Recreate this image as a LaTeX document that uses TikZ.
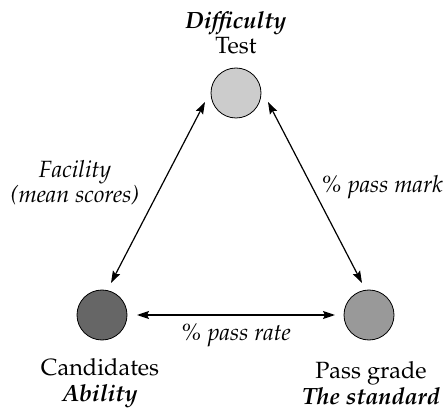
\documentclass[tikz,border=0pt]{standalone}
\usepackage[T1]{fontenc}
\usepackage{mathpazo}
\usetikzlibrary{arrows.meta}
\tikzset{
  disc/.style={circle, draw=black, line width=0.8pt, minimum size=50pt, inner sep=0pt},
  lbl/.style={align=center, font=\fontsize{23.5}{25.5}\selectfont, inner sep=0pt},
  conn/.style={line width=1.2pt, {Stealth[length=12pt,width=8pt,inset=2pt]}-{Stealth[length=12pt,width=8pt,inset=2pt]}}
}
\begin{document}
\begin{tikzpicture}[x=1pt,y=-1pt]
\useasboundingbox (0,0) rectangle (445,409);
\node[disc, fill={rgb,255:red,204;green,204;blue,204}] (test) at (236,93) {};
\node[disc, fill={rgb,255:red,102;green,102;blue,102}] (cand) at (102,315) {};
\node[disc, fill={rgb,255:red,153;green,153;blue,153}] (pass) at (369,315) {};
\coordinate (t1) at (205,102);
\coordinate (c1) at (111,283);
\coordinate (t2) at (268,102);
\coordinate (p1) at (362,283);
\coordinate (c2) at (137,315);
\coordinate (p2) at (335,315);
\draw[conn] (t1) -- (c1);
\draw[conn] (t2) -- (p1);
\draw[conn] (c2) -- (p2);
\node[lbl] (tl) at (236,33) {\textbf{\textit{Difficulty}}\\Test};
\node[lbl] (cl) at (100,383) {Candidates\\\textbf{\textit{Ability}}};
\node[lbl] (pl) at (371,383) {Pass grade\\\textbf{\textit{The standard}}};
\node[lbl] (fl) at (75,183) {\textit{Facility}\\\textit{(mean scores)}};
\node[lbl, anchor=east] (ml) at (443,187) {\textit{\% pass mark}};
\node[lbl] (rl) at (236,336) {\textit{\% pass rate}};
\end{tikzpicture}
\end{document}
